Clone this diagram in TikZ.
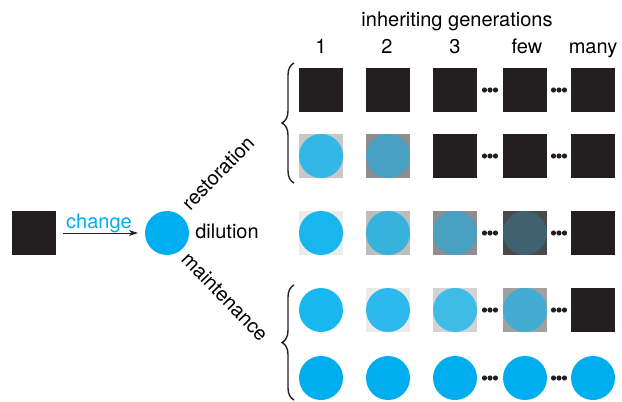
\documentclass[tikz,border=0pt]{standalone}
\usepackage{fontspec}
\setmainfont{TeX Gyre Heros}
\usetikzlibrary{arrows.meta,decorations.pathreplacing}

\definecolor{ink}{HTML}{231F20}
\definecolor{cyanP}{HTML}{00AEEF}
% grey backgrounds and tinted circles for the fading stages
\definecolor{gA}{HTML}{EBEBEB}
\definecolor{gB}{HTML}{D3D3D3}
\definecolor{gC}{HTML}{C8C8C8}
\definecolor{gD}{HTML}{BDBDBD}
\definecolor{gE}{HTML}{A0A0A0}
\definecolor{gF}{HTML}{8E8E8E}
\definecolor{gG}{HTML}{4A4A4A}
\definecolor{cRb}{HTML}{32B7E6}
\definecolor{cRc}{HTML}{48A1C2}
\definecolor{cDa}{HTML}{19B6EE}
\definecolor{cDb}{HTML}{36B2DC}
\definecolor{cDc}{HTML}{48A1C1}
\definecolor{cDd}{HTML}{406170}
\definecolor{cMa}{HTML}{18B7EF}
\definecolor{cMb}{HTML}{2DB9EE}
\definecolor{cMc}{HTML}{3FBBE8}
\definecolor{cMd}{HTML}{44ACD2}

\begin{document}
\begin{tikzpicture}[x=1pt,y=-1pt,
  lab/.style={font=\fontsize{20}{24}\selectfont, inner sep=0pt},
  bgsq/.style={minimum size=44pt, inner sep=0pt, draw=none, fill=#1},
  blob/.style={circle, minimum size=44pt, inner sep=0pt, draw=none, fill=#1},
  dot/.style={circle, minimum size=5.2pt, inner sep=0pt, fill=ink},
  bracestyle/.style={decorate, decoration={brace, amplitude=12pt}, line width=1.4pt, ink}]
\useasboundingbox (0,0) rectangle (622,402);

% header
\node[lab, anchor=base] (hdr) at (457,26) {inheriting generations};
\node[lab, anchor=base] (g1) at (321,53) {1};
\node[lab, anchor=base] (g2) at (387,53) {2};
\node[lab, anchor=base] (g3) at (455,53) {3};
\node[lab, anchor=base] (g4) at (527,53) {few};
\node[lab, anchor=base] (g5) at (593,53) {many};

% starting state, change and the three outcomes
\node[bgsq=ink] (start) at (34,233) {};
\node[blob=cyanP] (changed) at (167,233) {};
\draw[-{Stealth[length=9pt,width=6pt]}, line width=0.8pt, ink, shorten <=7pt, shorten >=7pt]
  (start) -- (changed);
\node[lab, anchor=base, text=cyanP] (chg) at (99,228) {change};
\node[lab, anchor=base] (dil) at (227,238) {dilution};
\node[lab, rotate=46] (rest) at (218,173) {restoration};
\node[lab, rotate=-46] (maint) at (225,297) {maintenance};

% row 1: restoration, plain
\foreach \c/\x in {1/321,2/388,3/455,4/525,5/593}
  \node[bgsq=ink] (a\c) at (\x,90) {};

% row 2: restoration via fading
\node[bgsq=gC] (b1) at (321,156) {};
\node[blob=cRb] (b1c) at (321,156) {};
\node[bgsq=gF] (b2) at (388,156) {};
\node[blob=cRc] (b2c) at (388,156) {};
\node[bgsq=ink] (b3) at (455,156) {};
\node[bgsq=ink] (b4) at (525,156) {};
\node[bgsq=ink] (b5) at (593,156) {};

% row 3: dilution
\node[bgsq=gA] (d1) at (321,233) {};
\node[blob=cDa] (d1c) at (321,233) {};
\node[bgsq=gD] (d2) at (388,233) {};
\node[blob=cDb] (d2c) at (388,233) {};
\node[bgsq=gF] (d3) at (455,233) {};
\node[blob=cDc] (d3c) at (455,233) {};
\node[bgsq=gG] (d4) at (525,233) {};
\node[blob=cDd] (d4c) at (525,233) {};
\node[bgsq=ink] (d5) at (593,233) {};

% row 4: maintenance via fading
\node[blob=cMa] (m1c) at (321,310) {};
\node[bgsq=gA] (m2) at (388,310) {};
\node[blob=cMb] (m2c) at (388,310) {};
\node[bgsq=gB] (m3) at (455,310) {};
\node[blob=cMc] (m3c) at (455,310) {};
\node[bgsq=gE] (m4) at (525,310) {};
\node[blob=cMd] (m4c) at (525,310) {};
\node[bgsq=ink] (m5) at (593,310) {};

% row 5: maintenance, plain
\foreach \c/\x in {1/321,2/388,3/455,4/525,5/593}
  \node[blob=cyanP] (p\c) at (\x,378) {};

% ellipses between generations
\foreach \r/\y in {1/90,2/156,3/233,4/310,5/378}{
  \foreach \k/\x in {a/490,b/559}{
    \node[dot] (e\r\k1) at (\x-5.5,\y) {};
    \node[dot] (e\r\k2) at (\x,\y) {};
    \node[dot] (e\r\k3) at (\x+5.5,\y) {};
  }
}

% braces grouping the restoration and maintenance rows
\coordinate (topA) at (294,183);
\coordinate (topB) at (294,63);
\coordinate (botA) at (294,400);
\coordinate (botB) at (294,285);
\draw[bracestyle] (topA) -- (topB);
\draw[bracestyle] (botA) -- (botB);
\end{tikzpicture}
\end{document}
